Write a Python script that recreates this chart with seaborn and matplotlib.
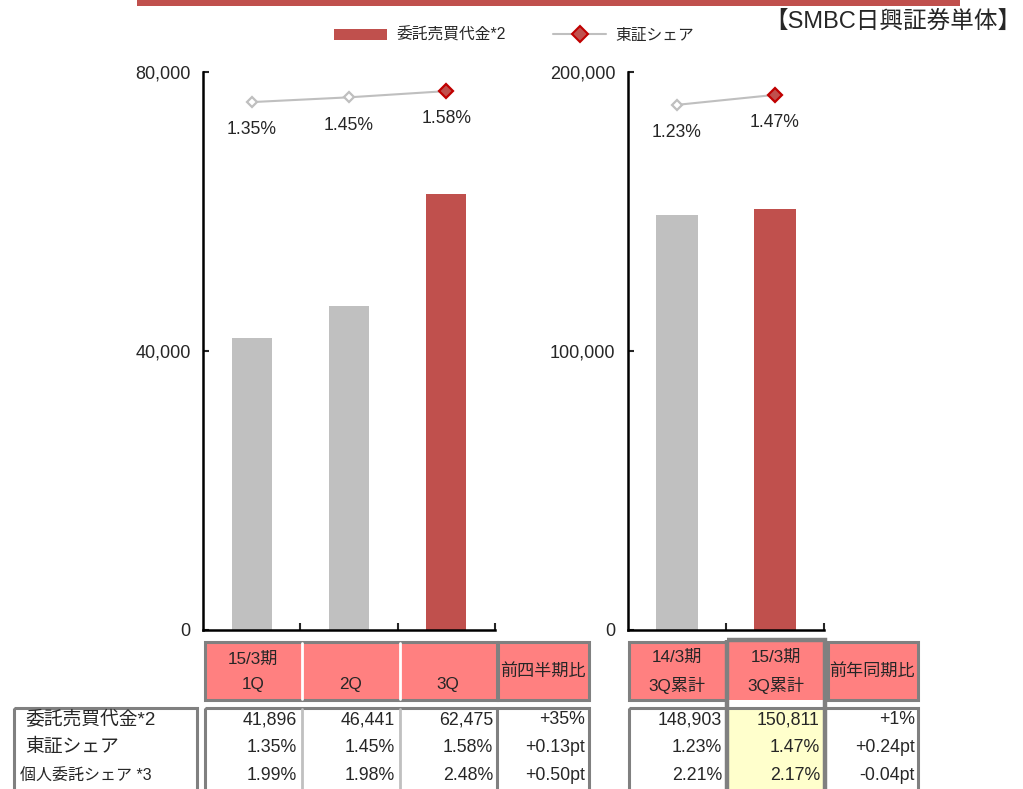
import matplotlib
matplotlib.use('Agg')
import matplotlib.pyplot as plt
import seaborn as sns
import pandas as pd
from matplotlib.patches import Rectangle, Patch
from matplotlib.lines import Line2D

# ---------------- data ----------------
quarters = ['15/3期\n1Q', '2Q', '3Q']
quarter_value = [41896, 46441, 62475]
quarter_share = [1.35, 1.45, 1.58]
cum_periods = ['14/3期\n3Q累計', '15/3期\n3Q累計']
cum_value = [148903, 150811]
cum_share = [1.23, 1.47]

row_labels = ['委託売買代金*2', '東証シェア', '個人委託シェア *3']
quarter_table = [['41,896', '46,441', '62,475'],
                 ['1.35%', '1.45%', '1.58%'],
                 ['1.99%', '1.98%', '2.48%']]
qoq_header = '前四半期比'
qoq = ['+35%', '+0.13pt', '+0.50pt']
cum_table = [['148,903', '150,811'],
             ['1.23%', '1.47%'],
             ['2.21%', '2.17%']]
yoy_header = '前年同期比'
yoy = ['+1%', '+0.24pt', '-0.04pt']

legend_labels = ['委託売買代金*2', '東証シェア']
title = '【SMBC日興証券単体】'
left_ticks = [0, 40000, 80000]
right_ticks = [0, 100000, 200000]

# ---------------- style ----------------
sns.set_style('white')
plt.rcParams['font.family'] = ['Liberation Sans', 'Noto Sans CJK JP', 'DejaVu Sans']

RED = '#C0504D'
GREY = '#C0C0C0'
LINE = '#BFBFBF'
DKRED = '#C00000'
BORDER = '#808080'
HEAD = '#FF8080'
YEL = '#FFFFCC'

W, H = 1023, 789
fig = plt.figure(figsize=(W / 100, H / 100), dpi=100)


def px(x0, y0, x1, y1):
    return [x0 / W, 1 - y1 / H, (x1 - x0) / W, (y1 - y0) / H]


def panel(rect, cats, vals, shares, ticks, ymax, share_lim, bar_w):
    ax = fig.add_axes(rect)
    df = pd.DataFrame({'period': cats, 'value': vals})
    pal = [GREY] * (len(cats) - 1) + [RED]
    sns.barplot(data=df, x='period', y='value', hue='period', palette=pal,
                width=bar_w, ax=ax, legend=False, saturation=1,
                edgecolor='none', linewidth=0)
    n = len(cats)
    ax.set_xlim(-0.5, n - 0.5)
    ax.set_ylim(0, ymax)
    ax.set_yticks(ticks)
    ax.set_yticklabels([f'{t:,}' for t in ticks], fontsize=13)
    ax.set_xticks([i + 0.5 for i in range(n)])
    ax.set_xticklabels([''] * n)
    ax.set_xlabel('')
    ax.set_ylabel('')
    ax.tick_params(axis='y', direction='in', length=4, width=1.5, pad=9, left=True)
    ax.tick_params(axis='x', direction='in', length=5, width=1.5, bottom=True)
    for s in ['top', 'right']:
        ax.spines[s].set_visible(False)
    for s in ['left', 'bottom']:
        ax.spines[s].set_color('black')
        ax.spines[s].set_linewidth(1.8)

    ax2 = ax.twinx()
    xs = list(range(n))
    sns.lineplot(x=xs, y=shares, ax=ax2, color=LINE, lw=1.5)
    ax2.plot(xs[:-1], shares[:-1], ls='none', marker='D', ms=5.5,
             mfc='white', mec=LINE, mew=1.6)
    ax2.plot(xs[-1:], shares[-1:], ls='none', marker='D', ms=7.5,
             mfc=RED, mec=DKRED, mew=1.6)
    for x, s in zip(xs, shares):
        ax2.annotate(f'{s:.2f}%', (x, s), xytext=(0, -20), textcoords='offset points',
                     ha='center', va='center', fontsize=12.7)
    ax2.set_ylim(*share_lim)
    ax2.set_xlim(-0.5, n - 0.5)
    ax2.axis('off')
    return ax


panel(px(203, 72, 495, 630), quarters, quarter_value, quarter_share,
      left_ticks, 80000, (-9.7, 1.98), 0.41)
panel(px(628, 72, 824, 630), cum_periods, cum_value, cum_share,
      right_ticks, 200000, (-11.4, 2.02), 0.43)

# ---------------- overlay: banner, title, legend, table ----------------
ov = fig.add_axes([0, 0, 1, 1], zorder=-1)
ov.set_xlim(0, W)
ov.set_ylim(H, 0)
ov.axis('off')

ov.add_patch(Rectangle((137, -2), 823, 8, color=RED, lw=0))
ov.text(1021, 22, title, ha='right', va='center', fontsize=17)

handles = [Patch(facecolor=RED, edgecolor='none'),
           Line2D([], [], color=LINE, lw=1.5, marker='D', ms=8, mfc=RED, mec=DKRED, mew=1.5)]
fig.legend(handles, legend_labels, loc='center', bbox_to_anchor=(514 / W, 1 - 35 / H),
           ncol=2, frameon=False, fontsize=11.3, handlelength=3.4, handleheight=0.7,
           columnspacing=3.0, handletextpad=0.6)


def box(x0, y0, x1, y1, fc='none', ec=BORDER, lw=2.2, z=1):
    ov.add_patch(Rectangle((x0, y0), x1 - x0, y1 - y0, facecolor=fc, edgecolor=ec, lw=lw, zorder=z))


FS = 12.8
HFS = 12.3
# header row
hy0, hy1 = 642, 700
box(205, hy0, 497, hy1, fc=HEAD)
for xb in [302, 400]:
    ov.plot([xb, xb], [hy0 + 1, hy1 - 1], color='white', lw=2, zorder=2)
box(498, hy0, 589, hy1, fc=HEAD)
box(629, hy0, 727, hy1, fc=HEAD)
box(828, hy0, 918, hy1, fc=HEAD)
box(727, hy0, 825, hy1, fc=HEAD, lw=0)
box(727, 640, 825, 800, fc='none', lw=3.2, z=4)

qcent = [253, 351, 448]
for i, c in enumerate(quarters):
    parts = c.split('\n')
    if len(parts) == 2:
        ov.text(qcent[i], 659, parts[0], ha='center', va='center', fontsize=HFS, zorder=5)
    ov.text(qcent[i], 685, parts[-1], ha='center', va='center', fontsize=HFS, zorder=5)
ov.text(543, 671, qoq_header, ha='center', va='center', fontsize=HFS, zorder=5)
ccent = [677, 776]
for i, c in enumerate(cum_periods):
    a, b = c.split('\n')
    ov.text(ccent[i], 657, a, ha='center', va='center', fontsize=HFS, zorder=5)
    ov.text(ccent[i], 685, b, ha='center', va='center', fontsize=HFS, zorder=5)
ov.text(872, 671, yoy_header, ha='center', va='center', fontsize=HFS, zorder=5)

# data rows
dy0, dy1 = 708, 800
box(14, dy0, 197, dy1)
box(205, dy0, 589, dy1)
ov.plot([497, 497], [dy0, dy1], color=BORDER, lw=2.2, zorder=2)
for xb in [302, 400]:
    ov.plot([xb, xb], [dy0 + 1, dy1], color='#C0C0C0', lw=2, zorder=2)
ov.add_patch(Rectangle((727, dy0), 98, dy1 - dy0, facecolor=YEL, lw=0, zorder=0.5))
box(629, dy0, 918, dy1)

rows_y = [720, 747, 775]
for r, lab in enumerate(row_labels):
    if r < 2:
        ov.text(25, rows_y[r], lab, ha='left', va='center', fontsize=13.5, zorder=5)
    else:
        ov.text(20, rows_y[r], lab, ha='left', va='center', fontsize=11.5, zorder=5)
    for j, v in enumerate(quarter_table[r]):
        ov.text([297, 395, 493][j], rows_y[r], v, ha='right', va='center', fontsize=FS, zorder=5)
    ov.text(585, rows_y[r], qoq[r], ha='right', va='center', fontsize=FS, zorder=5)
    for j, v in enumerate(cum_table[r]):
        ov.text([722, 820][j], rows_y[r], v, ha='right', va='center', fontsize=FS, zorder=5)
    ov.text(915, rows_y[r], yoy[r], ha='right', va='center', fontsize=FS, zorder=5)

fig.savefig('out.png', dpi=100)
